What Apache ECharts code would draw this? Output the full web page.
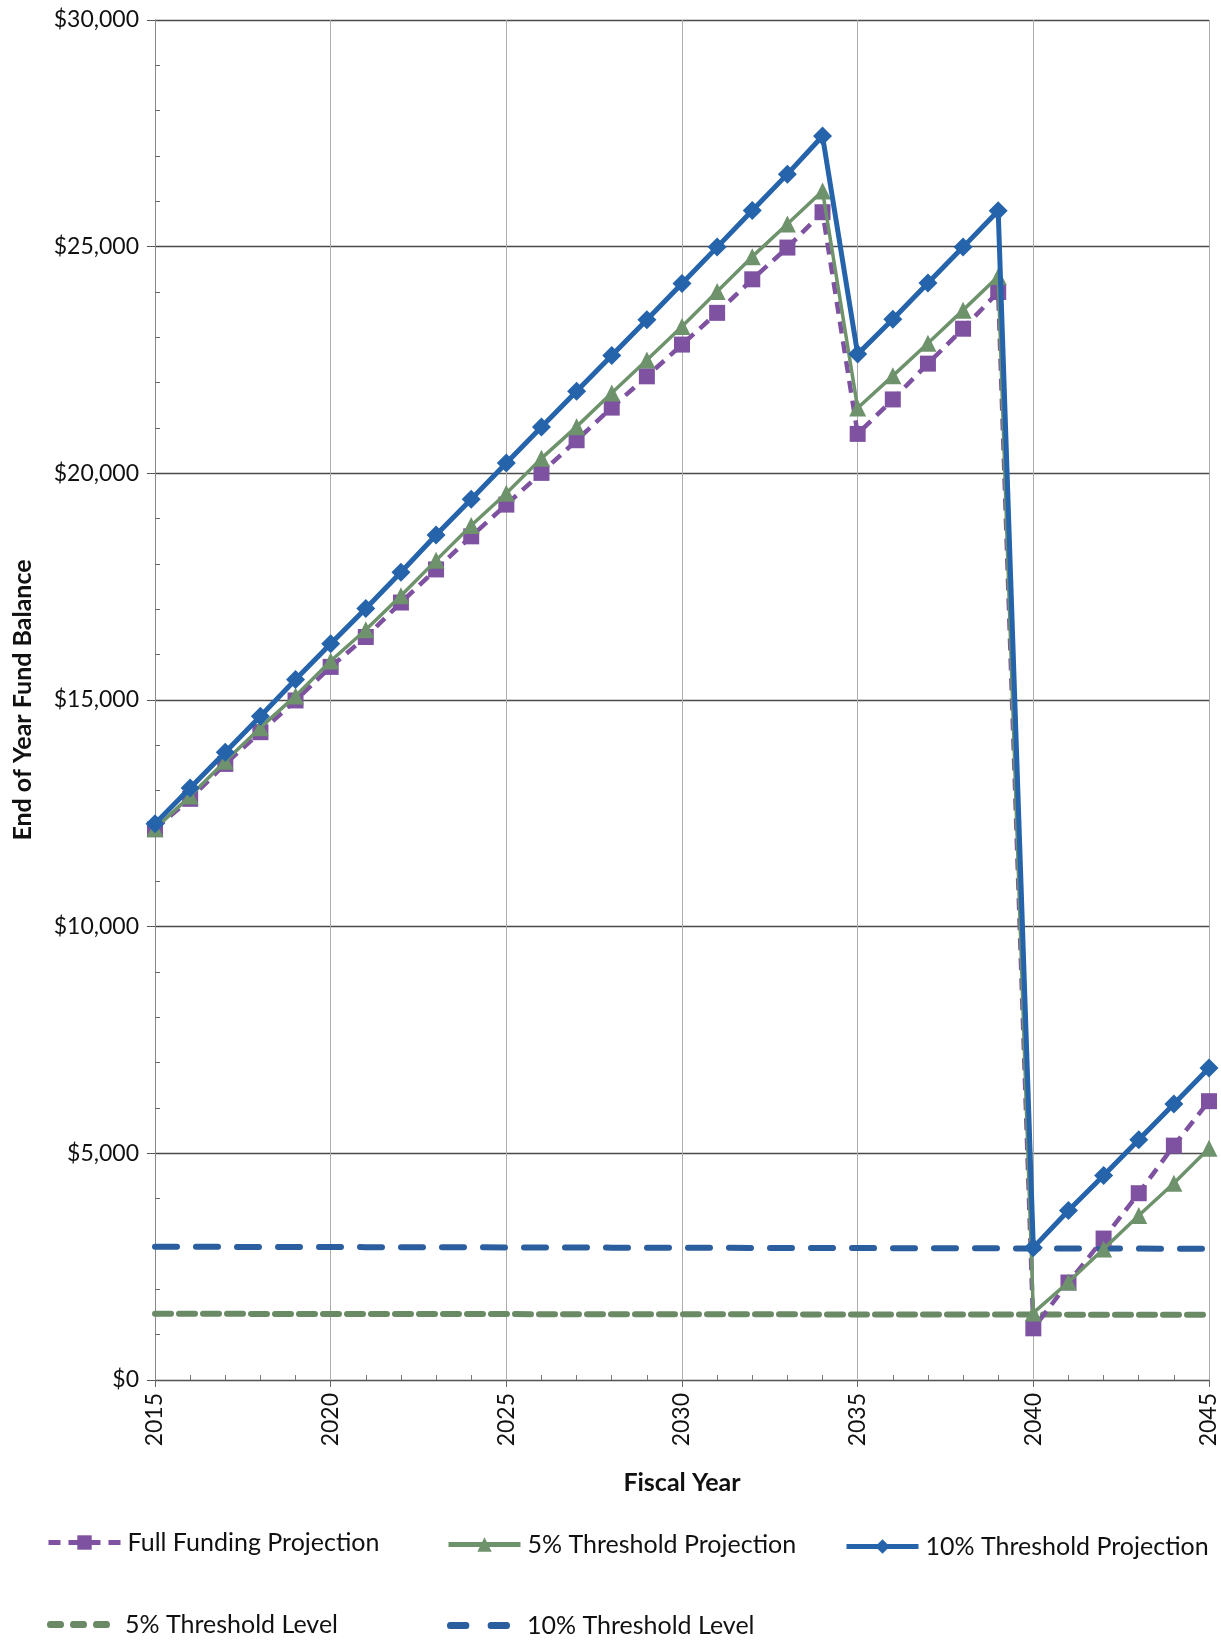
<!DOCTYPE html>
<html>
<head>
<meta charset="utf-8">
<script src="https://cdn.jsdelivr.net/npm/echarts@6/dist/echarts.min.js"></script>
<style>
  html, body { margin: 0; padding: 0; background: #ffffff; }
  #chart { width: 1221px; height: 1644px; }
</style>
</head>
<body>
<div id="chart"></div>
<script>
// Fiscal years on the horizontal axis
const years = [2015, 2016, 2017, 2018, 2019, 2020, 2021, 2022, 2023, 2024,
               2025, 2026, 2027, 2028, 2029, 2030, 2031, 2032, 2033, 2034,
               2035, 2036, 2037, 2038, 2039, 2040, 2041, 2042, 2043, 2044, 2045];

// End of year fund balance by scenario
const fullFunding = [12150, 12820, 13590, 14290, 14990, 15730, 16390, 17150, 17880, 18610,
                     19310, 20010, 20730, 21450, 22140, 22840, 23540, 24280, 24980, 25760,
                     20870, 21630, 22420, 23190, 24000, 1140, 2150, 3120, 4120, 5170, 6150];
const threshold5Proj = [12160, 12880, 13650, 14390, 15090, 15860, 16550, 17300, 18080, 18850,
                        19560, 20330, 21030, 21770, 22500, 23240, 24010, 24780, 25500, 26230,
                        21440, 22150, 22870, 23600, 24340, 1480, 2160, 2890, 3630, 4340, 5110];
const threshold10Proj = [12270, 13060, 13850, 14640, 15450, 16240, 17020, 17820, 18640, 19430,
                         20230, 21020, 21810, 22600, 23390, 24190, 24990, 25800, 26600, 27440,
                         22630, 23400, 24200, 24990, 25790, 2920, 3740, 4510, 5300, 6090, 6880];

// Minimum reserve levels
const threshold5Level = [1460, 1460, 1460, 1458, 1458, 1456, 1456, 1455, 1455, 1454,
                         1454, 1452, 1452, 1451, 1450, 1450, 1449, 1448, 1448, 1447,
                         1446, 1446, 1445, 1444, 1444, 1443, 1442, 1442, 1441, 1440, 1440];
const threshold10Level = [2940, 2938, 2937, 2935, 2934, 2932, 2931, 2929, 2928, 2926,
                          2925, 2923, 2922, 2920, 2919, 2917, 2916, 2914, 2913, 2911,
                          2910, 2908, 2907, 2905, 2904, 2902, 2901, 2899, 2898, 2896, 2895];

const yTicks = [0, 5000, 10000, 15000, 20000, 25000, 30000];

const pairs = arr => years.map((y, i) => [y, arr[i]]);

const FONT = 'Lato';
const PURPLE = '#7E52A0';
const GREEN = '#6E926C';
const BLUE = '#2563AA';
const BLUE_DASH = '#2B5E9E';
const GREEN_DASH = '#6A8A66';

// Dash-style swatches for the reserve-level legend entries
const GREEN_DASH_ICON = 'path://M3,0h11a3,3 0 0 1 0,6h-11a3,3 0 0 1 0,-6z M26,0h11a3,3 0 0 1 0,6h-11a3,3 0 0 1 0,-6z M49,0h11a3,3 0 0 1 0,6h-11a3,3 0 0 1 0,-6z';
const BLUE_DASH_ICON = 'path://M3,0h16a3,3 0 0 1 0,6h-16a3,3 0 0 1 0,-6z M43,0h16a3,3 0 0 1 0,6h-16a3,3 0 0 1 0,-6z';

const chart = echarts.init(document.getElementById('chart'), null, { renderer: 'canvas' });

function legendBox(item, left, top, opts) {
  opts = opts || {};
  return {
    data: [item], left: left, top: top, orient: 'horizontal', padding: 0,
    itemWidth: opts.w || 72, itemHeight: opts.h || 18, selectedMode: false,
    symbolKeepAspect: false,
    lineStyle: { width: 5 },
    textStyle: { fontFamily: FONT, fontSize: 25, color: '#111', padding: [0, 0, 0, opts.gap || 2] }
  };
}

chart.setOption({
  backgroundColor: '#ffffff',
  animation: false,
  grid: { left: 155, right: 12, top: 20, bottom: 264, containLabel: false },
  legend: [
    legendBox('Full Funding Projection', 46, 1530),
    legendBox('5% Threshold Projection', 446, 1532),
    legendBox('10% Threshold Projection', 844, 1534),
    legendBox({ name: '5% Threshold Level', icon: GREEN_DASH_ICON }, 47, 1612, { w: 63, h: 7, gap: 10 }),
    legendBox({ name: '10% Threshold Level', icon: BLUE_DASH_ICON }, 447, 1613, { w: 63, h: 7, gap: 12 })
  ],
  xAxis: [
    {
      type: 'value', min: 2015, max: 2045, interval: 5,
      name: 'Fiscal Year', nameLocation: 'middle', nameGap: 90,
      nameTextStyle: { fontFamily: FONT, fontSize: 25, fontWeight: 'bold', color: '#111' },
      axisLine: { show: true, lineStyle: { color: '#555', width: 1.2 } },
      axisTick: { show: true, inside: false, length: 7, lineStyle: { color: '#666' } },
      axisLabel: { rotate: 90, margin: 13, fontFamily: FONT, fontSize: 23, color: '#111',
                   formatter: v => String(v) },
      splitLine: { show: true, lineStyle: { color: '#acacac', width: 1 } }
    },
    {
      type: 'value', min: 2015, max: 2045, interval: 5, position: 'bottom',
      axisLine: { show: false },
      axisTick: { show: false, inside: true },
      minorTick: { show: true, splitNumber: 5, length: 5, lineStyle: { color: '#777' } },
      axisLabel: { show: false },
      splitLine: { show: false }
    }
  ],
  yAxis: [
    {
      type: 'value', min: yTicks[0], max: yTicks[yTicks.length - 1], interval: 5000,
      name: 'End of Year Fund Balance', nameLocation: 'middle', nameGap: 120,
      nameTextStyle: { fontFamily: FONT, fontSize: 25, fontWeight: 'bold', color: '#111' },
      axisLine: { show: true, lineStyle: { color: '#888', width: 1 } },
      axisTick: { show: true, inside: false, length: 8, lineStyle: { color: '#555' } },
      axisLabel: { margin: 16, fontFamily: FONT, fontSize: 23, color: '#111',
                   formatter: v => '$' + v.toLocaleString('en-US') },
      splitLine: { show: true, lineStyle: { color: '#4a4a4a', width: 1.3 } }
    },
    {
      type: 'value', min: 0, max: 30000, interval: 5000, position: 'left',
      axisLine: { show: false },
      axisTick: { show: false, inside: true },
      minorTick: { show: true, splitNumber: 5, length: 5, lineStyle: { color: '#666' } },
      axisLabel: { show: false },
      splitLine: { show: false }
    }
  ],
  series: [
    {
      name: '5% Threshold Level', type: 'line', data: pairs(threshold5Level),
      symbol: 'none', z: 2,
      lineStyle: { color: GREEN_DASH, width: 6, type: [16, 8], cap: 'round' },
      itemStyle: { color: GREEN_DASH }
    },
    {
      name: '10% Threshold Level', type: 'line', data: pairs(threshold10Level),
      symbol: 'none', z: 2,
      lineStyle: { color: BLUE_DASH, width: 6, type: [22, 19], cap: 'round' },
      itemStyle: { color: BLUE_DASH }
    },
    {
      name: 'Full Funding Projection', type: 'line', data: pairs(fullFunding),
      symbol: 'rect', symbolSize: 16, z: 3,
      lineStyle: { color: PURPLE, width: 4.5, type: [12, 8] },
      itemStyle: { color: PURPLE }
    },
    {
      name: '5% Threshold Projection', type: 'line', data: pairs(threshold5Proj),
      symbol: 'triangle', symbolSize: 17, z: 4,
      lineStyle: { color: GREEN, width: 3.5 },
      itemStyle: { color: GREEN }
    },
    {
      name: '10% Threshold Projection', type: 'line', data: pairs(threshold10Proj),
      symbol: 'diamond', symbolSize: 19, z: 5,
      lineStyle: { color: BLUE, width: 5 },
      itemStyle: { color: BLUE }
    }
  ]
});
</script>
</body>
</html>
